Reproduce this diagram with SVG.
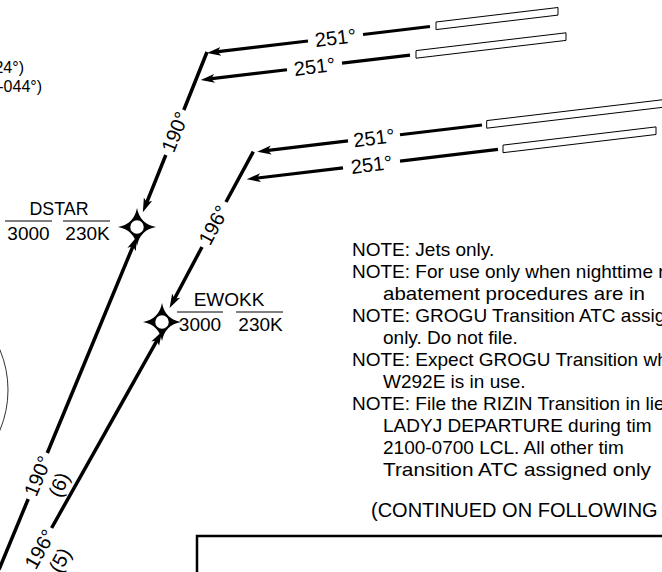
<svg xmlns="http://www.w3.org/2000/svg" width="662" height="572" viewBox="0 0 662 572">
<defs>
<style>
text{font-family:"Liberation Sans",Arial,sans-serif;fill:#000}
.route{stroke:#000;stroke-width:3.5;fill:none}
.arr{stroke:#000;stroke-width:3.2;fill:none}
.bar{fill:#fff;stroke:#000;stroke-width:1}
.lbl{font-size:20px;text-anchor:middle}
.fx{font-size:19px;text-anchor:middle}
.ovl{stroke:#555;stroke-width:1.3}
.note{font-size:19px}
.thin{fill:none;stroke:#333;stroke-width:1}
</style>
<marker id="ah" viewBox="0 -6 16 12" markerWidth="16" markerHeight="12" refX="5" refY="0" orient="auto" markerUnits="userSpaceOnUse">
<path d="M14,0 L0,-4.5 L3.5,0 L0,4.5 Z" fill="#000"/>
</marker>
<g id="fixsym">
<path d="M0,-19 Q3,-3 19,0 Q3,3 0,19 Q-3,3 -19,0 Q-3,-3 0,-19 Z" fill="#000"/>
<circle r="7.5" fill="#fff" stroke="#000" stroke-width="1.5"/>
</g>
</defs>
<rect width="662" height="572" fill="#fff"/>

<g id="background">
<circle class="thin" cx="-96" cy="390" r="104"/>
<text x="24" y="73" font-size="16" text-anchor="end">24°)</text>
<text x="42" y="92" font-size="16" text-anchor="end">-044°)</text>
</g>

<g id="DSTAR">
<use href="#fixsym" transform="translate(137,227)"/>
<text class="fx" x="59" y="215" font-size="18" textLength="59" lengthAdjust="spacingAndGlyphs">DSTAR</text>
<line class="ovl" x1="5" y1="221" x2="52" y2="221"/>
<line class="ovl" x1="63" y1="221" x2="110" y2="221"/>
<text class="fx" x="28.5" y="240">3000</text>
<text class="fx" x="87.5" y="240">230K</text>
</g>

<g id="EWOKK">
<use href="#fixsym" transform="translate(162,322)"/>
<text class="fx" x="229" y="306">EWOKK</text>
<line class="ovl" x1="177" y1="312" x2="223" y2="312"/>
<line class="ovl" x1="236" y1="312" x2="283" y2="312"/>
<text class="fx" x="200" y="331">3000</text>
<text class="fx" x="260.5" y="331">230K</text>
</g>

<g id="connectors">
<!-- route 1 inbound 251 arrows -->
<polygon class="bar" points="436,22 558,7.5 558,15.1 436,29.6"/>
<line class="arr" x1="430" y1="26.5" x2="363" y2="34.5"/>
<line class="arr" x1="308" y1="41" x2="215.94" y2="51.94" marker-end="url(#ah)"/>
<text class="lbl" transform="translate(335.5,37.7) rotate(-6.78)" y="7">251°</text>
<polygon class="bar" points="416,50.6 566,32.8 566,40.4 416,58.2"/>
<line class="arr" x1="410" y1="55.1" x2="342" y2="63.2"/>
<line class="arr" x1="287" y1="69.75" x2="209.64" y2="78.94" marker-end="url(#ah)"/>
<text class="lbl" transform="translate(314.5,66.5) rotate(-6.78)" y="7">251°</text>

<!-- route 2 inbound 251 arrows -->
<polygon class="bar" points="486.7,120.6 700,95.3 700,102.9 486.7,128.2"/>
<line class="arr" x1="482" y1="125" x2="400" y2="134.75"/>
<line class="arr" x1="348" y1="140.9" x2="266.24" y2="150.64" marker-end="url(#ah)"/>
<text class="lbl" transform="translate(374,137.8) rotate(-6.78)" y="7">251°</text>
<polygon class="bar" points="503,145.1 656,126.9 656,134.5 503,152.7"/>
<line class="arr" x1="498" y1="149.4" x2="400" y2="161.1"/>
<line class="arr" x1="343" y1="167.9" x2="255.64" y2="178.24" marker-end="url(#ah)"/>
<text class="lbl" transform="translate(371.5,164.5) rotate(-6.78)" y="7">251°</text>

<!-- route 1 main line -->
<line class="route" x1="207" y1="52" x2="183.8" y2="110"/>
<line class="route" x1="165.8" y1="155" x2="146.2" y2="203.8" marker-end="url(#ah)"/>
<text class="lbl" transform="translate(175,132) rotate(-68.2)" y="7">190°</text>
<line class="route" x1="47.3" y1="453" x2="133.55" y2="244.8" marker-end="url(#ah)"/>
<line class="route" x1="28.2" y1="499" x2="-1" y2="569.5"/>
<g transform="translate(37.7,476) rotate(-67.5)">
<text class="lbl" y="7">190°</text>
<text class="lbl" y="30" font-size="18">(6)</text>
</g>

<!-- route 2 main line -->
<line class="route" x1="253.3" y1="151.7" x2="226" y2="202"/>
<line class="route" x1="202" y1="247" x2="173.8" y2="300" marker-end="url(#ah)"/>
<text class="lbl" transform="translate(213.5,225) rotate(-61.8)" y="7">196°</text>
<line class="route" x1="51.6" y1="528" x2="157.6" y2="339.3" marker-end="url(#ah)"/>
<g transform="translate(39.8,549) rotate(-60.66)">
<text class="lbl" y="7">196°</text>
<text class="lbl" y="30" font-size="18">(5)</text>
</g>
</g>

<g id="notes">
<text class="note" x="352" y="256">NOTE: Jets only.</text>
<text class="note" x="352" y="278">NOTE: For use only when nighttime n</text>
<text class="note" x="383" y="300" textLength="262" lengthAdjust="spacingAndGlyphs">abatement procedures are in</text>
<text class="note" x="352" y="322">NOTE: GROGU Transition ATC assig</text>
<text class="note" x="383" y="344">only. Do not file.</text>
<text class="note" x="352" y="366">NOTE: Expect GROGU Transition wh</text>
<text class="note" x="383" y="388">W292E is in use.</text>
<text class="note" x="352" y="410">NOTE: File the RIZIN Transition in lie</text>
<text class="note" x="383" y="432">LADYJ DEPARTURE during tim</text>
<text class="note" x="383" y="454">2100-0700 LCL. All other tim</text>
<text class="note" x="383" y="476" textLength="268" lengthAdjust="spacingAndGlyphs">Transition ATC assigned only</text>
<text x="371" y="517" font-size="20">(CONTINUED ON FOLLOWING</text>
</g>

<g id="continued-box">
<path d="M197,575 V536 H665" fill="none" stroke="#000" stroke-width="2.5"/>
</g>
</svg>
